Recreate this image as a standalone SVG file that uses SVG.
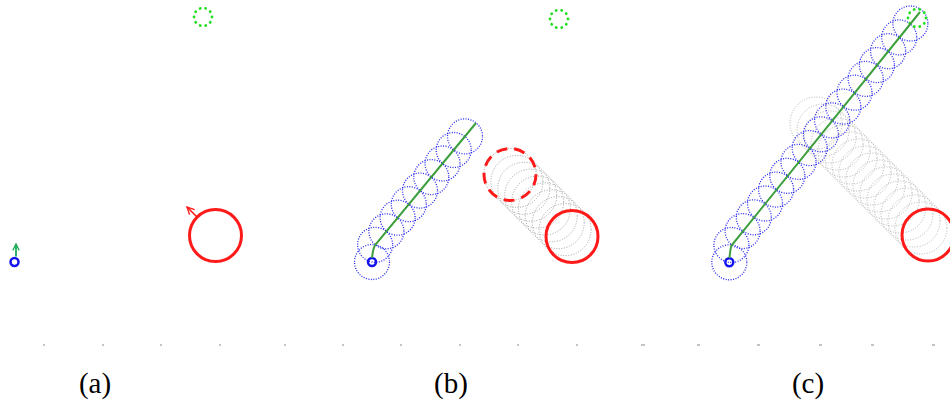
<svg xmlns="http://www.w3.org/2000/svg" width="950" height="403" viewBox="0 0 950 403">
<style>
.blue{fill:none;stroke:#2626f0;stroke-width:1.3;stroke-dasharray:1 1.5}
.gray{fill:none;stroke:#a0a0a0;stroke-width:1;stroke-dasharray:1 1.6}
.grayc{fill:none;stroke:#b4b4b4;stroke-width:1;stroke-dasharray:1 1.6}
.goal{fill:none;stroke:#22dd22;stroke-width:2.8;stroke-dasharray:0.1 5.5;stroke-linecap:round}
.robot{fill:none;stroke:#ff1a1a;stroke-width:3}
.dashed{stroke-dasharray:11 7}
.start{fill:none;stroke:#1414ee;stroke-width:2.5}
.path{fill:none;stroke:#3c9f3c;stroke-width:2}
.tick{fill:#c4c4c4}
.label{font-family:"Liberation Serif","Times New Roman",serif;font-size:29px;text-anchor:middle;fill:#000}
</style>
<defs>
<marker id="arrRed" viewBox="0 0 10 10" refX="9" refY="5" markerWidth="9" markerHeight="9" orient="auto" markerUnits="userSpaceOnUse">
<path d="M1,1 L9,5 L1,9" fill="none" stroke="#ff1a1a" stroke-width="1.5"/>
</marker>
<marker id="arrGreen" viewBox="0 0 10 10" refX="9" refY="5" markerWidth="8" markerHeight="8" orient="auto" markerUnits="userSpaceOnUse">
<path d="M1,1 L9,5 L1,9" fill="none" stroke="#1aaa55" stroke-width="1.6"/>
</marker>
</defs>
<rect width="950" height="403" fill="#fff"/>

<g id="ticks">
<rect class="tick" x="43" y="344" width="2" height="2"/>
<rect class="tick" x="102" y="344" width="2" height="2"/>
<rect class="tick" x="160" y="344" width="2" height="2"/>
<rect class="tick" x="219" y="344" width="2" height="2"/>
<rect class="tick" x="284" y="344" width="2" height="2"/>
<rect class="tick" x="342" y="344" width="2" height="2"/>
<rect class="tick" x="400" y="344" width="2" height="2"/>
<rect class="tick" x="459" y="344" width="2" height="2"/>
<rect class="tick" x="517" y="344" width="2" height="2"/>
<rect class="tick" x="576" y="344" width="2" height="2"/>
<rect class="tick" x="641" y="344" width="4" height="2"/>
<rect class="tick" x="697" y="344" width="3" height="2"/>
<rect class="tick" x="757" y="344" width="3" height="2"/>
<rect class="tick" x="819" y="344" width="3" height="2"/>
<rect class="tick" x="871" y="344" width="3" height="2"/>
<rect class="tick" x="932" y="344" width="3" height="2"/>
</g>

<!-- Panel (a) -->
<g id="a-goal"><circle class="goal" cx="203" cy="17" r="9"/></g>
<g id="a-obstacle"><circle class="robot" cx="215.5" cy="235.5" r="26"/></g>
<g id="a-start"><circle class="start" cx="14.5" cy="262" r="4"/></g>

<!-- Panel (b) -->
<g id="b-goal"><circle class="goal" cx="559" cy="19" r="9"/></g>
<g id="b-obstacle-sweep">
<circle class="gray" cx="510" cy="174.5" r="26"/>
<circle class="gray" cx="516.9" cy="181.4" r="26"/>
<circle class="gray" cx="523.8" cy="188.3" r="26"/>
<circle class="gray" cx="530.7" cy="195.2" r="26"/>
<circle class="gray" cx="537.6" cy="202.1" r="26"/>
<circle class="gray" cx="544.4" cy="208.9" r="26"/>
<circle class="gray" cx="551.3" cy="215.8" r="26"/>
<circle class="gray" cx="558.2" cy="222.7" r="26"/>
<circle class="gray" cx="565.1" cy="229.6" r="26"/>
</g>
<g id="b-obstacle-start"><circle class="robot dashed" cx="510" cy="174.5" r="26"/></g>
<g id="b-obstacle"><circle class="robot" cx="572" cy="236.5" r="26"/></g>
<g id="b-robot-sweep">
<circle class="blue" cx="372" cy="262" r="17.5"/>
<circle class="blue" cx="375.1" cy="244.8" r="17.5"/>
<circle class="blue" cx="386.4" cy="231.3" r="17.5"/>
<circle class="blue" cx="397.6" cy="217.7" r="17.5"/>
<circle class="blue" cx="408.8" cy="204.2" r="17.5"/>
<circle class="blue" cx="420" cy="190.6" r="17.5"/>
<circle class="blue" cx="431.3" cy="177.1" r="17.5"/>
<circle class="blue" cx="442.5" cy="163.5" r="17.5"/>
<circle class="blue" cx="453.7" cy="150" r="17.5"/>
<circle class="blue" cx="465" cy="136.4" r="17.5"/>
</g>
<g id="b-start"><circle class="start" cx="372" cy="262" r="4"/></g>

<!-- Panel (c) -->
<g id="c-obstacle-sweep">
<circle class="grayc" cx="816" cy="123" r="26"/>
<circle class="grayc" cx="823" cy="130" r="26"/>
<circle class="grayc" cx="830" cy="137" r="26"/>
<circle class="grayc" cx="837" cy="144" r="26"/>
<circle class="grayc" cx="844" cy="151" r="26"/>
<circle class="grayc" cx="851" cy="158" r="26"/>
<circle class="grayc" cx="858" cy="165" r="26"/>
<circle class="grayc" cx="865" cy="172" r="26"/>
<circle class="grayc" cx="872" cy="179" r="26"/>
<circle class="grayc" cx="879" cy="186" r="26"/>
<circle class="grayc" cx="886" cy="193" r="26"/>
<circle class="grayc" cx="893" cy="200" r="26"/>
<circle class="grayc" cx="900" cy="207" r="26"/>
<circle class="grayc" cx="907" cy="214" r="26"/>
<circle class="grayc" cx="914" cy="221" r="26"/>
<circle class="grayc" cx="921" cy="228" r="26"/>
</g>
<g id="c-obstacle"><circle class="robot" cx="928" cy="235" r="26"/></g>
<g id="c-robot-sweep">
<circle class="blue" cx="729.3" cy="262.3" r="17.5"/>
<circle class="blue" cx="731.4" cy="245" r="17.5"/>
<circle class="blue" cx="742.6" cy="231.1" r="17.5"/>
<circle class="blue" cx="753.8" cy="217.3" r="17.5"/>
<circle class="blue" cx="765" cy="203.5" r="17.5"/>
<circle class="blue" cx="776.1" cy="189.6" r="17.5"/>
<circle class="blue" cx="787.3" cy="175.8" r="17.5"/>
<circle class="blue" cx="798.5" cy="161.9" r="17.5"/>
<circle class="blue" cx="809.7" cy="148.1" r="17.5"/>
<circle class="blue" cx="820.9" cy="134.3" r="17.5"/>
<circle class="blue" cx="832.1" cy="120.4" r="17.5"/>
<circle class="blue" cx="843.3" cy="106.6" r="17.5"/>
<circle class="blue" cx="854.5" cy="92.7" r="17.5"/>
<circle class="blue" cx="865.7" cy="78.9" r="17.5"/>
<circle class="blue" cx="876.9" cy="65.1" r="17.5"/>
<circle class="blue" cx="888.1" cy="51.2" r="17.5"/>
<circle class="blue" cx="899.2" cy="37.4" r="17.5"/>
<circle class="blue" cx="910.4" cy="23.5" r="17.5"/>
</g>
<g id="c-goal"><circle class="goal" cx="917" cy="18" r="9"/></g>
<g id="c-start"><circle class="start" cx="729.3" cy="262.3" r="4"/></g>

<g id="connectors">
<path d="M197,217 L187,207" fill="none" stroke="#ff1a1a" stroke-width="1.6" marker-end="url(#arrRed)"/>
<path d="M16,256.5 L16,244" fill="none" stroke="#1aaa55" stroke-width="1.8" marker-end="url(#arrGreen)"/>
<path class="path" d="M372,258 Q373,248 375.5,244.5 L476,123"/>
<path class="path" d="M729.5,258 Q730,250 731.5,245.5 L920,12"/>
</g>

<g id="labels">
<text class="label" x="95" y="393">(a)</text>
<text class="label" x="451" y="393">(b)</text>
<text class="label" x="808" y="393">(c)</text>
</g>
</svg>
